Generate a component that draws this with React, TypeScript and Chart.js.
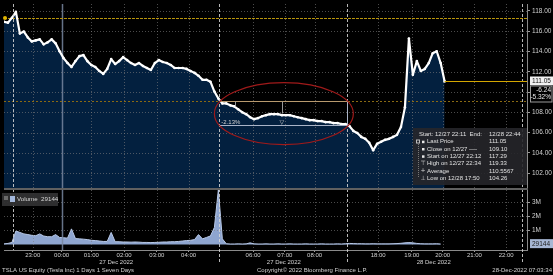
import { useEffect, useRef } from 'react';
import { Chart, registerables } from 'chart.js';

Chart.register(...registerables);

const CANVAS_W = 553;
const CANVAS_H = 275;
const FONT = '"Liberation Sans", Arial, sans-serif';

// ---- data (one value every compressed-time step) ----
const priceValues = [
  116.93, 116.84, 117.32, 117.9, 115.77, 115.96, 115.38, 114.99, 115.09, 115.19,
  114.7, 114.9, 115.19, 114.8, 114.02, 113.34, 112.86, 112.47, 113.05, 113.54,
  113.64, 113.05, 112.67, 112.47, 112.08, 111.79, 112.28, 113.25, 112.76, 113.05,
  113.44, 113.15, 112.86, 112.67, 112.86, 112.57, 112.37, 112.18, 112.86, 113.15,
  112.96, 112.86, 112.67, 112.37, 112.37, 112.37, 112.28, 112.08, 111.89, 111.6,
  111.21, 111.21, 111.02, 110.05, 109.37, 108.88, 108.88, 108.69, 108.59, 108.3,
  108.01, 107.82, 107.52, 107.33, 107.43, 107.62, 107.72, 107.82, 107.82, 107.82,
  107.72, 107.72, 107.72, 107.62, 107.52, 107.43, 107.33, 107.23, 107.23, 107.14,
  107.14, 107.04, 107.04, 106.94, 106.94, 106.85, 106.85, 106.65, 106.17, 105.97,
  105.58, 105.39, 105.0, 104.26, 104.91, 105.1, 105.29, 105.39, 105.58, 105.78,
  106.55, 108.49, 115.28, 111.7, 113.05, 112.08, 112.28, 112.86, 113.83, 114.02,
  112.86, 111.05,
];

// volume in millions
const volumeValues = [
  0.05, 0.08, 0.15, 0.95, 0.85, 0.75, 0.7, 0.65, 0.62, 0.75,
  0.6, 0.55, 0.55, 0.7, 0.5, 0.48, 0.45, 1.1, 0.42, 0.4,
  0.38, 0.35, 0.3, 0.28, 0.25, 0.22, 0.22, 0.85, 0.2, 0.2,
  0.18, 0.18, 0.17, 0.18, 0.17, 0.15, 0.15, 0.14, 0.15, 0.16,
  0.18, 0.18, 0.2, 0.2, 0.22, 0.25, 0.28, 0.3, 0.35, 0.7,
  0.4, 0.5, 0.6, 1.2, 3.85, 0.4, 0.06, 0.04, 0.04, 0.05,
  0.04, 0.05, 0.12, 0.05, 0.04, 0.04, 0.05, 0.04, 0.04, 0.05,
  0.04, 0.04, 0.05, 0.04, 0.04, 0.04, 0.05, 0.04, 0.04, 0.04,
  0.05, 0.04, 0.04, 0.04, 0.05, 0.04, 0.06, 0.08, 0.07, 0.06,
  0.06, 0.05, 0.05, 0.06, 0.05, 0.05, 0.05, 0.05, 0.06, 0.07,
  0.09, 0.12, 0.14, 0.12, 0.08, 0.06, 0.05, 0.05, 0.05, 0.06,
  0.04,
];

const timeLabels = ['23:00', '00:00', '01:00', '02:00', '03:00', '04:00', '06:00', '07:00', '08:00', '18:00', '19:00', '20:00', '21:00', '22:00'];
const timeTickPos = [7.25, 14.5, 22, 30.25, 38.5, 46.5, 62.75, 70.75, 78.25, 94.25, 102.75, 110.5, 118.5, 126.5];
const sessionBreaks = [2.25, 54.25, 86.5, 130.5];
const dayBreak = 14.5;
const dateLabels = ['27 Dec 2022', '27 Dec 2022', '28 Dec 2022'];
const datePos = [28.25, 70.5, 108.25];
const priceTicks = [102, 104, 106, 108, 110, 112, 114, 116, 118];
const volumeTicks = [1, 2, 3];
const volumeTickLabels = ['1M', '2M', '3M'];

const X_MAX = 131.75;
const PRICE_MIN = 94.43;
const PRICE_MAX = 118.68;
const PRICE_FLOOR = 100.54;
const VOL_MIN = -0.38;
const VOL_MAX = 16.86;

const lastPrice = 111.05;
const lastChange = '-6.24';
const lastChangePct = '-5.32%';
const closePrice = 109.1;
const startPrice = 117.29;
const lastVolume = '29144';

const measureStart = 54.25;
const measureEnd = 86.5;
const measurePct = -2.13;
const measureTicks = [58.25, 70];
const ellipseCenterX = 70.5;
const ellipseCenterY = 107.87;
const ellipseHalfX = 17.5;
const ellipseHalfY = 3.05;

const infoTitle = 'Start: 12/27 22:11  End:';
const infoTitleValue = '12/28 22:44';
const infoLabels = ['Last Price', 'Close on 12/27 ----', 'Start on 12/27 22:12', 'High on 12/27 22:34', 'Average', 'Low on 12/28 17:50'];
const infoValues = ['111.05', '109.10', '117.29', '119.33', '110.5567', '104.26'];
const infoGlyphs = ['■', '■', '■', '⊤', '+', '⊥'];

function text(ctx: CanvasRenderingContext2D, s: string, x: number, y: number, size: number, color: string, align: CanvasTextAlign = 'left', family = FONT) {
  ctx.font = `${size}px ${family}`;
  ctx.fillStyle = color;
  ctx.textAlign = align;
  ctx.textBaseline = 'middle';
  ctx.fillText(s, x, y);
}

function line(ctx: CanvasRenderingContext2D, x1: number, y1: number, x2: number, y2: number) {
  ctx.beginPath();
  ctx.moveTo(x1, y1);
  ctx.lineTo(x2, y2);
  ctx.stroke();
}

const bbgPlugin = {
  id: 'bbg',
  beforeDraw(chart: any) {
    const c = chart.ctx;
    c.save();
    c.fillStyle = '#000';
    c.fillRect(0, 0, chart.width, chart.height);
    c.restore();
  },
  afterDatasetDraw(chart: any, args: any) {
    if (args.index !== 1) return;
    const ctx: CanvasRenderingContext2D = chart.ctx;
    const a = chart.chartArea;
    const x = chart.scales.x, y = chart.scales.y, y2 = chart.scales.y2;
    const panelBottom = y.getPixelForValue(PRICE_FLOOR);
    ctx.save();
    ctx.lineWidth = 1;
    ctx.strokeStyle = 'rgba(125,125,125,0.6)';
    ctx.setLineDash([1, 2]);
    priceTicks.forEach((v) => {
      const py = Math.round(y.getPixelForValue(v)) + 0.5;
      if (py < panelBottom) line(ctx, a.left, py, a.right, py);
    });
    volumeTicks.forEach((v) => {
      const py = Math.round(y2.getPixelForValue(v)) + 0.5;
      line(ctx, a.left, py, a.right, py);
    });
    timeTickPos.forEach((v) => {
      if (v === dayBreak) return;
      const px = Math.round(x.getPixelForValue(v)) + 0.5;
      line(ctx, px, a.top, px, a.bottom);
    });
    // day boundary
    ctx.setLineDash([]);
    ctx.strokeStyle = 'rgba(120,135,160,0.85)';
    ctx.lineWidth = 1.5;
    const dpx = Math.round(x.getPixelForValue(dayBreak)) + 0.5;
    line(ctx, dpx, a.top, dpx, a.bottom);
    // start & close reference lines
    ctx.lineWidth = 1;
    ctx.strokeStyle = '#b8940c';
    ctx.setLineDash([3, 1]);
    let py = Math.round(y.getPixelForValue(startPrice)) + 0.5;
    line(ctx, a.left, py, a.right, py);
    ctx.strokeStyle = '#8a6a12';
    ctx.setLineDash([2, 2]);
    py = Math.round(y.getPixelForValue(closePrice)) + 0.5;
    line(ctx, a.left, py, a.right, py);
    ctx.restore();
  },
  afterDraw(chart: any) {
    const ctx: CanvasRenderingContext2D = chart.ctx;
    const a = chart.chartArea;
    const x = chart.scales.x, y = chart.scales.y, y2 = chart.scales.y2;
    const panelBottom = y.getPixelForValue(PRICE_FLOOR);
    ctx.save();

    // session breaks
    ctx.lineWidth = 1;
    ctx.strokeStyle = 'rgba(215,215,215,0.85)';
    ctx.setLineDash([3, 2]);
    sessionBreaks.forEach((v, i) => {
      const px = Math.round(x.getPixelForValue(v)) + 0.5;
      line(ctx, px, a.top, px, i === 0 ? a.bottom : a.bottom + 14);
    });
    ctx.setLineDash([]);

    // panel separator
    ctx.fillStyle = '#606060';
    ctx.fillRect(a.left, Math.round(panelBottom), a.right - a.left + 1, 2);

    // measurement tool
    const mx1 = x.getPixelForValue(measureStart);
    const mx2 = x.getPixelForValue(measureEnd);
    const mTop = Math.round(y.getPixelForValue(closePrice)) + 0.5;
    const mBot = Math.round(y.getPixelForValue(closePrice * (1 + measurePct / 100))) + 0.5;
    ctx.strokeStyle = '#b89a6e';
    line(ctx, mx1, mTop, mx2, mTop);
    ctx.strokeStyle = '#aab4c8';
    line(ctx, mx1, mBot, mx2, mBot);
    line(ctx, Math.round(mx2) + 0.5, mTop, Math.round(mx2) + 0.5, mBot);
    ctx.strokeStyle = '#9a9a9a';
    measureTicks.forEach((v, i) => {
      const px = Math.round(x.getPixelForValue(v)) + 0.5;
      line(ctx, px, mTop, px, mTop + (i === 0 ? 5 : 12));
    });
    text(ctx, `${measurePct.toFixed(2)}%`, mx1 + 2, mBot - 3, 6, '#d0d0d0');
    text(ctx, '▽', x.getPixelForValue(measureTicks[1]), mBot - 3, 6, '#c8c8c8', 'center', '"DejaVu Sans", sans-serif');

    // ellipse
    const ecx = x.getPixelForValue(ellipseCenterX);
    const ecy = y.getPixelForValue(ellipseCenterY);
    const erx = Math.abs(x.getPixelForValue(ellipseCenterX + ellipseHalfX) - ecx);
    const ery = Math.abs(y.getPixelForValue(ellipseCenterY + ellipseHalfY) - ecy);
    ctx.strokeStyle = '#a01a1a';
    ctx.lineWidth = 1.2;
    ctx.beginPath();
    ctx.ellipse(ecx, ecy, erx, ery, 0, 0, Math.PI * 2);
    ctx.stroke();

    // last price line
    ctx.lineWidth = 1;
    ctx.strokeStyle = '#d4a600';
    const lpy = Math.round(y.getPixelForValue(lastPrice)) + 0.5;
    line(ctx, x.getPixelForValue(priceValues.length - 1), lpy, a.right, lpy);

    // start marker
    ctx.fillStyle = '#e0b400';
    ctx.beginPath();
    ctx.arc(x.getPixelForValue(0) + 1, y.getPixelForValue(startPrice), 2, 0, Math.PI * 2);
    ctx.fill();

    // last price labels on axis
    ctx.fillStyle = '#f2f2f2';
    ctx.fillRect(a.right + 3, lpy - 5, CANVAS_W - a.right - 3, 9);
    text(ctx, lastPrice.toFixed(2), a.right + 5, lpy, 6.5, '#101010');
    ctx.fillStyle = '#000';
    ctx.fillRect(a.right + 3, lpy + 4, CANVAS_W - a.right - 3, 17);
    ctx.strokeStyle = '#9a9a9a';
    ctx.strokeRect(a.right + 3.5, lpy + 4.5, CANVAS_W - a.right - 4.5, 16);
    text(ctx, lastChange, CANVAS_W - 2, lpy + 8.5, 6.5, '#e8e8e8', 'right');
    text(ctx, lastChangePct, CANVAS_W - 2, lpy + 16, 6.5, '#e8e8e8', 'right');

    // info box
    const bx = 413, by = 128, bw = a.right - 413, bh = 57;
    ctx.fillStyle = 'rgba(38,38,42,0.9)';
    ctx.fillRect(bx, by, bw, bh);
    text(ctx, infoTitle, bx + 6, by + 6, 6, '#e0e0e0');
    text(ctx, infoTitleValue, bx + 76, by + 6, 6, '#e0e0e0');
    ctx.strokeStyle = '#777';
    ctx.setLineDash([1, 1]);
    line(ctx, bx + 5.5, by + 16, bx + 5.5, by + 50);
    ctx.setLineDash([]);
    ctx.strokeStyle = '#bbb';
    ctx.strokeRect(bx + 3.5, by + 12, 3, 3);
    infoLabels.forEach((lab, i) => {
      const ry = by + 13.7 + i * 7.3;
      if (i < 3) {
        ctx.fillStyle = '#e6e6e6';
        ctx.fillRect(bx + 9, ry - 1, 2.5, 2.5);
      } else {
        text(ctx, infoGlyphs[i], bx + 10, ry, 6, '#d8d8d8', 'center', '"DejaVu Sans", sans-serif');
      }
      text(ctx, lab, bx + 14, ry, 6, '#e0e0e0');
      text(ctx, infoValues[i], bx + 76, ry, 6, '#e0e0e0');
    });

    // volume legend
    ctx.fillStyle = 'rgba(48,48,50,0.95)';
    ctx.fillRect(2, Math.round(panelBottom) + 5, 56, 13);
    ctx.fillStyle = '#6a6a6a';
    ctx.fillRect(4, Math.round(panelBottom) + 8, 4, 4);
    ctx.fillStyle = '#a3b8dc';
    ctx.fillRect(10, Math.round(panelBottom) + 8, 5, 6);
    text(ctx, `Volume  ${lastVolume}`, 17, Math.round(panelBottom) + 11.5, 6.2, '#d8d8d8');

    // volume axis ticks & labels
    ctx.strokeStyle = '#9a9a9a';
    volumeTicks.forEach((v, i) => {
      const vy = Math.round(y2.getPixelForValue(v)) + 0.5;
      line(ctx, a.right, vy, a.right + 3, vy);
      text(ctx, volumeTickLabels[i], a.right + 5, vy, 6.5, '#d0d0d0');
    });
    const lvy = y2.getPixelForValue(0.03);
    ctx.fillStyle = '#a7b7d4';
    ctx.fillRect(a.right + 3, lvy - 5, CANVAS_W - a.right - 3, 9);
    text(ctx, lastVolume, a.right + 5, lvy, 6.5, '#202020');

    // date labels
    dateLabels.forEach((d, i) => {
      text(ctx, d, x.getPixelForValue(datePos[i]), a.bottom + 12.5, 6, '#d0d0d0', 'center');
    });

    // footer
    text(ctx, 'TSLA US Equity (Tesla Inc) 1 Days 1 Seven Days', 2, CANVAS_H - 4.5, 6, '#d0d0d0');
    text(ctx, 'Copyright© 2022 Bloomberg Finance L.P.', 257, CANVAS_H - 4.5, 6, '#d0d0d0');
    text(ctx, '28-Dec-2022 07:03:34', CANVAS_W - 1, CANVAS_H - 4.5, 6, '#d0d0d0', 'right');

    ctx.restore();
  },
};

export default function App() {
  const ref = useRef<HTMLCanvasElement>(null);
  useEffect(() => {
    const canvas = ref.current;
    if (!canvas) return;
    const pricePoints = priceValues.map((v, i) => ({ x: i, y: v }));
    const volumePoints = volumeValues.map((v, i) => ({ x: i, y: v }));
    const chart = new Chart(canvas, {
      type: 'line',
      data: {
        datasets: [
          {
            label: 'Last Price',
            data: pricePoints,
            borderColor: '#ffffff',
            borderWidth: 2.2,
            borderJoinStyle: 'round',
            pointRadius: 1.3,
            pointBorderWidth: 0,
            pointBackgroundColor: '#ffffff',
            fill: false,
            tension: 0,
            yAxisID: 'y',
          },
          {
            label: 'Volume',
            data: volumePoints,
            borderColor: '#b8c9e8',
            borderWidth: 1,
            backgroundColor: '#8ea5cf',
            fill: 'origin',
            pointRadius: 0,
            tension: 0,
            yAxisID: 'y2',
          },
          {
            label: 'Price area',
            data: pricePoints,
            borderColor: 'rgba(0,0,0,0)',
            borderWidth: 0,
            backgroundColor: '#03203f',
            fill: { value: PRICE_FLOOR },
            pointRadius: 0,
            tension: 0,
            yAxisID: 'y',
          },
        ],
      },
      options: {
        animation: false,
        responsive: false,
        devicePixelRatio: 1,
        events: [],
        layout: { padding: 0 },
        plugins: { legend: { display: false }, tooltip: { enabled: false } },
        scales: {
          x: {
            type: 'linear',
            position: 'bottom',
            min: 0,
            max: X_MAX,
            afterFit: (s: any) => {
              s.height = 25;
              s.paddingLeft = 0;
              s.paddingRight = 0;
            },
            afterBuildTicks: (s: any) => {
              s.ticks = timeTickPos.map((v) => ({ value: v }));
            },
            ticks: {
              autoSkip: false,
              maxRotation: 0,
              padding: 0,
              color: '#d0d0d0',
              font: { family: FONT, size: 6 },
              callback: (_v: any, i: number) => timeLabels[i],
            },
            grid: { drawOnChartArea: false, drawTicks: true, tickLength: 2, color: '#9a9a9a' },
            border: { display: true, color: '#8a8a8a', width: 1 },
          },
          y: {
            type: 'linear',
            position: 'right',
            min: PRICE_MIN,
            max: PRICE_MAX,
            afterFit: (s: any) => {
              s.width = 26;
              s.paddingTop = 0;
              s.paddingBottom = 0;
            },
            afterBuildTicks: (s: any) => {
              s.ticks = priceTicks.map((v) => ({ value: v }));
            },
            ticks: {
              padding: 2,
              color: '#d0d0d0',
              font: { family: FONT, size: 6.5 },
              callback: (v: any) => Number(v).toFixed(2),
            },
            grid: { drawOnChartArea: false, drawTicks: true, tickLength: 3, color: '#9a9a9a' },
            border: { display: true, color: '#8a8a8a', width: 1 },
          },
          y2: {
            type: 'linear',
            display: false,
            min: VOL_MIN,
            max: VOL_MAX,
          },
        },
      } as any,
      plugins: [bbgPlugin as any],
    });
    return () => chart.destroy();
  }, []);

  return (
    <div style={{ position: 'fixed', left: 0, top: 0, width: CANVAS_W, height: CANVAS_H, background: '#000' }}>
      <canvas ref={ref} width={CANVAS_W} height={CANVAS_H} style={{ width: CANVAS_W, height: CANVAS_H, display: 'block' }} />
    </div>
  );
}
